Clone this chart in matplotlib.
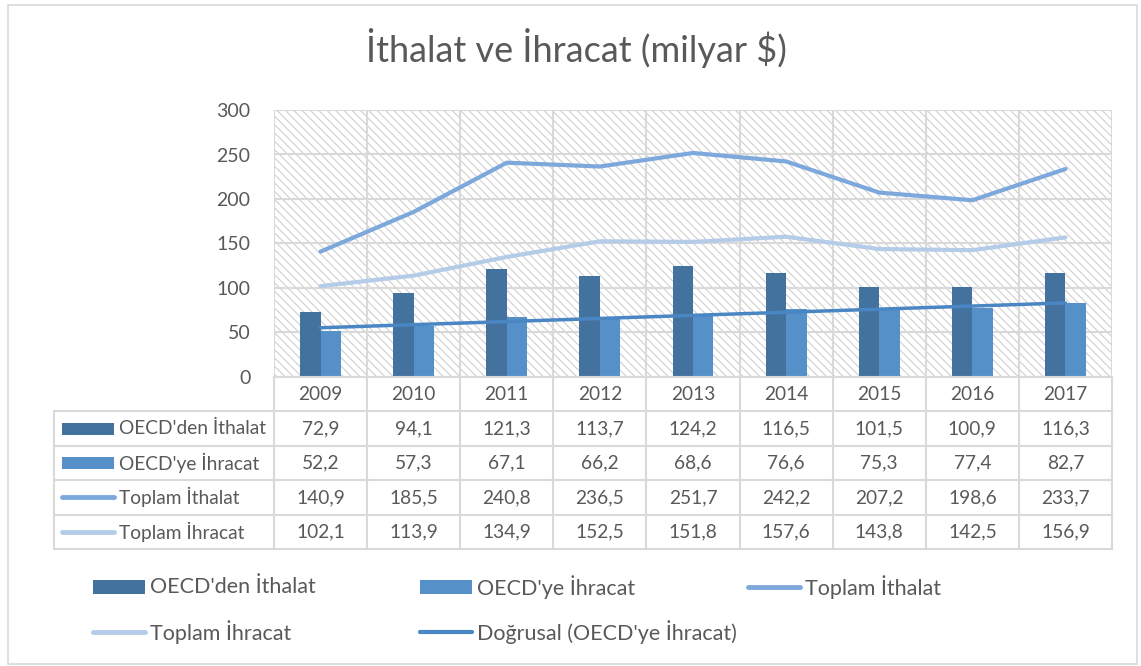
import numpy as np
import matplotlib
matplotlib.use('Agg')
import matplotlib.pyplot as plt
from matplotlib.patches import Rectangle
from matplotlib.lines import Line2D

plt.rcParams['font.family'] = ['Lato', 'DejaVu Sans']
plt.rcParams['hatch.linewidth'] = 0.8
plt.rcParams['hatch.color'] = '#cfcfcf'

#data
years = ['2009', '2010', '2011', '2012', '2013', '2014', '2015', '2016', '2017']
oecd_ithalat = [72.9, 94.1, 121.3, 113.7, 124.2, 116.5, 101.5, 100.9, 116.3]
oecd_ihracat = [52.2, 57.3, 67.1, 66.2, 68.6, 76.6, 75.3, 77.4, 82.7]
toplam_ithalat = [140.9, 185.5, 240.8, 236.5, 251.7, 242.2, 207.2, 198.6, 233.7]
toplam_ihracat = [102.1, 113.9, 134.9, 152.5, 151.8, 157.6, 143.8, 142.5, 156.9]
series_names = ["OECD'den İthalat", "OECD'ye İhracat", "Toplam İthalat", "Toplam İhracat"]
trend_name = "Doğrusal (OECD'ye İhracat)"
title = 'İthalat ve İhracat (milyar $)'

#colors
c_dark = '#44729f'
c_bar2 = '#5591c8'
c_line1 = '#7da8dc'
c_line2 = '#b5cce9'
c_trend = '#4a86c4'
c_text = '#595959'
c_grid = '#d9d9d9'

W, H = 1141, 666
fig = plt.figure(figsize=(W/100, H/100), dpi=100)

def fx(px):
    return px/W

def fy(py):
    return 1-py/H

#outer border
fig.patches.append(Rectangle((fx(8), fy(664)), fx(1137)-fx(8), fy(5)-fy(664),
                             transform=fig.transFigure, fill=False,
                             edgecolor='#d9d9d9', linewidth=1.2))

fig.text(fx(576), fy(48), title, ha='center', va='center', fontsize=26, color=c_text)

#main axes
ax_l, ax_r, ax_t, ax_b = 274, 1112, 110, 377
ax = fig.add_axes([fx(ax_l), fy(ax_b), fx(ax_r)-fx(ax_l), fy(ax_t)-fy(ax_b)])
x = np.arange(len(years))
ax.set_xlim(-0.5, len(years)-0.5)
ax.set_ylim(0, 300)

#hatched background
ax.add_patch(Rectangle((0, 0), 1, 1, transform=ax.transAxes, facecolor='white',
                       hatch='\\\\\\\\', edgecolor='#cfcfcf', linewidth=0, zorder=0))

for yv in range(0, 301, 50):
    ax.axhline(yv, color=c_grid, lw=1.5, zorder=1)
for xv in np.arange(-0.5, len(years), 1):
    ax.axvline(xv, color=c_grid, lw=1.5, zorder=1)

bw = 0.22
ax.bar(x-bw/2, oecd_ithalat, bw, color=c_dark, zorder=2)
ax.bar(x+bw/2, oecd_ihracat, bw, color=c_bar2, zorder=2)
ax.plot(x, toplam_ithalat, color=c_line1, lw=3, zorder=3, solid_capstyle='round')
ax.plot(x, toplam_ihracat, color=c_line2, lw=3, zorder=3, solid_capstyle='round')

#linear trend of OECD'ye Ihracat
k, b = np.polyfit(x, oecd_ihracat, 1)
ax.plot(x, k*x+b, color=c_trend, lw=2.5, zorder=4, solid_capstyle='round')

for s in ax.spines.values():
    s.set_visible(False)
ax.set_xticks([])
ax.set_yticks(range(0, 301, 50))
ax.tick_params(axis='y', length=0, pad=17, labelsize=14, labelcolor=c_text)

#data table
tb_l, tb_t, tb_b = 54, 377, 549
row_h = (tb_b-tb_t)/5
cw = (ax_r-ax_l)/len(years)
tax = fig.add_axes([0, 0, 1, 1])
tax.set_xlim(0, W)
tax.set_ylim(H, 0)
tax.axis('off')

lc = dict(color=c_grid, lw=1.5)
#horizontal lines
tax.plot([ax_l, ax_r], [tb_t, tb_t], **lc)
for r in range(1, 6):
    tax.plot([tb_l, ax_r], [tb_t+r*row_h]*2, **lc)
#vertical lines
tax.plot([tb_l, tb_l], [tb_t+row_h, tb_b], **lc)
for c in range(len(years)+1):
    tax.plot([ax_l+c*cw]*2, [tb_t, tb_b], **lc)

for c, yr in enumerate(years):
    tax.text(ax_l+(c+0.5)*cw, tb_t+0.5*row_h, yr, ha='center', va='center',
             fontsize=13.8, color=c_text)

table_rows = [oecd_ithalat, oecd_ihracat, toplam_ithalat, toplam_ihracat]
for r, vals in enumerate(table_rows):
    yc = tb_t+(r+1.5)*row_h
    for c, v in enumerate(vals):
        tax.text(ax_l+(c+0.5)*cw, yc, f'{v:.1f}'.replace('.', ','), ha='center',
                 va='center', fontsize=13.8, color=c_text)
    tax.text(119, yc, series_names[r], ha='left', va='center', fontsize=13.8, color=c_text)
    if r < 2:
        tax.add_patch(Rectangle((62, yc-6), 52, 12, color=[c_dark, c_bar2][r], lw=0))
    else:
        tax.add_line(Line2D([62, 114], [yc, yc], color=[c_line1, c_line2][r-2], lw=3.5,
                            solid_capstyle='round'))

#legend
def leg_bar(x0, yc, col, label):
    tax.add_patch(Rectangle((x0, yc-7), 52, 14, color=col, lw=0))
    tax.text(x0+57, yc, label, ha='left', va='center', fontsize=15.5, color=c_text)

def leg_line(x0, yc, col, label, lw=3.5):
    tax.add_line(Line2D([x0, x0+52], [yc, yc], color=col, lw=lw, solid_capstyle='round'))
    tax.text(x0+57, yc, label, ha='left', va='center', fontsize=15.5, color=c_text)

leg_bar(93, 587, c_dark, series_names[0])
leg_bar(420, 587, c_bar2, series_names[1])
leg_line(748, 587, c_line1, series_names[2])
leg_line(93, 632, c_line2, series_names[3])
leg_line(420, 632, c_trend, trend_name, lw=3)

fig.savefig('out.png', dpi=100)
